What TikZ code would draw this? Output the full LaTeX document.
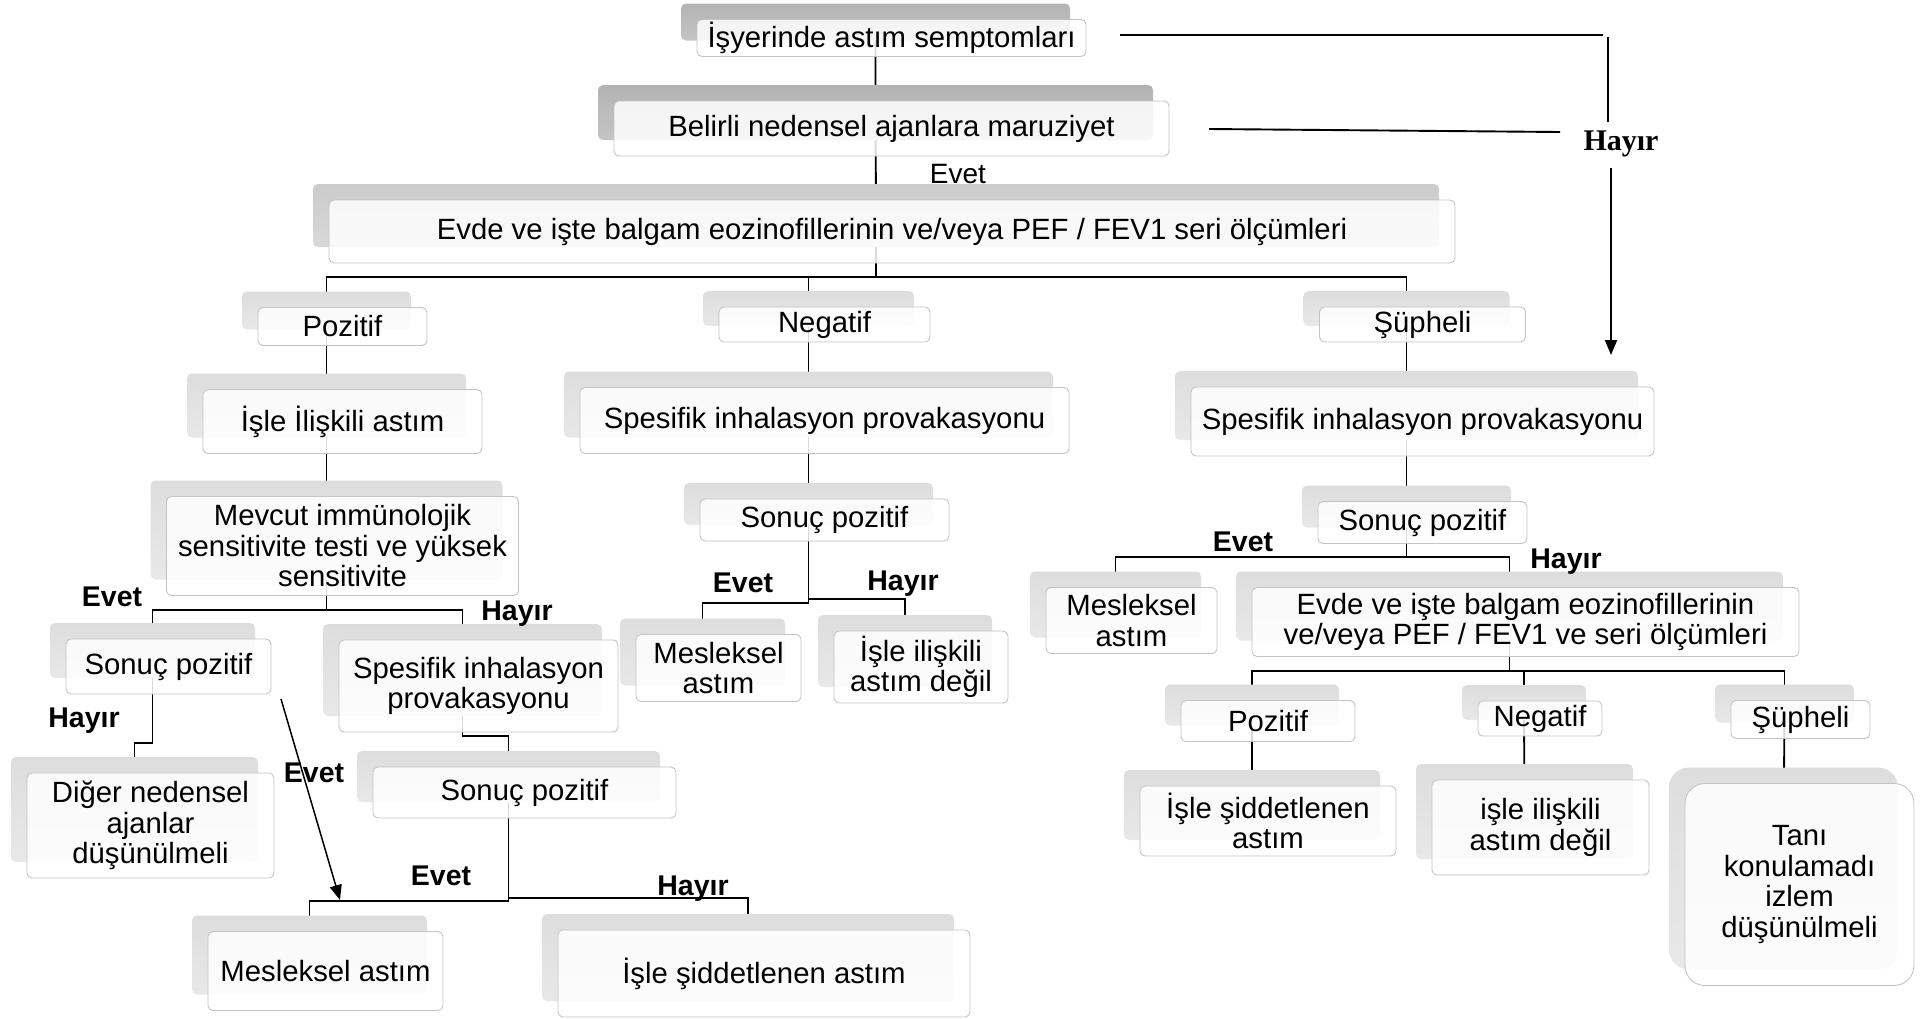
\documentclass[tikz,border=0pt]{standalone}
\usepackage{fontspec}
\setmainfont{Liberation Sans}
\newfontfamily\tnrfont{Liberation Serif}
\usetikzlibrary{arrows.meta}
\pgfdeclarelayer{bg}
\pgfsetlayers{bg,main}
\definecolor{sdAt}{HTML}{B3B3B3}
\definecolor{sdAb}{HTML}{C4C4C4}
\definecolor{sdBt}{HTML}{CBCBCB}
\definecolor{sdBb}{HTML}{D8D8D8}
\definecolor{sdCt}{HTML}{DDDDDD}
\definecolor{sdCb}{HTML}{E8E8E8}
\definecolor{bordgray}{HTML}{C4C4C4}
\newcommand{\fsmain}{\fontsize{29.3}{30.5}\selectfont}
\newcommand{\smbox}[7]{%
  \node[#6, minimum width=#4, minimum height=#5] (#1) at (#2,#3) {};
  \node[txtbox, minimum width=#4, minimum height=#5] (#1-t) at ([shift={(16,16)}]#1.center) {#7};
}
\begin{document}
\begin{tikzpicture}[x=1pt,y=-1pt,
  shbox/.style={draw=none, rounded corners=5pt, inner sep=0pt},
  shdark/.style={shbox, top color=sdAt, bottom color=sdAb},
  shmid/.style={shbox, top color=sdBt, bottom color=sdBb},
  shlight/.style={shbox, top color=sdCt, bottom color=sdCb},
  txtbox/.style={draw=bordgray, line width=0.9pt, fill=white, fill opacity=0.85, text opacity=1, draw opacity=1, rounded corners=5pt, align=center, inner sep=0pt, font=\fsmain},
  conn/.style={line width=1.9pt, black},
  lbl/.style={font=\fontsize{28.5}{30}\selectfont\bfseries, anchor=base, inner sep=0pt},
  arr/.style={-{Triangle[length=15pt,width=12pt]}}
]
\useasboundingbox (0,0) rectangle (1928,1018);

% ---------- boxes ----------
\smbox{isy}{875.5}{22}{389}{37}{shdark}{İşyerinde astım semptomları}
\smbox{bel}{875.5}{112.5}{555}{55}{shdark}{Belirli nedensel ajanlara maruziyet}
\smbox{evde}{876}{215.5}{1126}{63}{shmid}{Evde ve işte balgam eozinofillerinin ve/veya PEF / FEV1 seri ölçümleri}

\smbox{poz1}{326.5}{310.5}{169}{38}{shlight}{Pozitif}
\smbox{neg1}{808.5}{308.5}{211}{35}{shlight}{Negatif}
\smbox{sup1}{1406.5}{308.5}{206}{35}{shlight}{Şüpheli}

\smbox{isle1}{326.5}{405.5}{279}{64}{shlight}{İşle İlişkili astım}
\smbox{spes1}{808.5}{404.5}{489}{66}{shlight}{Spesifik inhalasyon provakasyonu}
\smbox{spes2}{1406.5}{405.5}{463}{69}{shlight}{Spesifik inhalasyon provakasyonu}

\smbox{mevcut}{326.5}{530}{352}{99}{shlight}{Mevcut immünolojik\\sensitivite testi ve yüksek\\sensitivite}
\smbox{sonuc1}{808.5}{504}{249}{42}{shlight}{Sonuç pozitif}
\smbox{sonuc2}{1406.5}{506.5}{209}{42}{shlight}{Sonuç pozitif}

\smbox{mesl1}{702.5}{652}{165}{67}{shlight}{Mesleksel\\astım}
\smbox{degil1}{905}{651}{174}{72}{shlight}{İşle ilişkili\\astım değil}
\smbox{mesl2}{1115.5}{604.5}{171}{66}{shlight}{Mesleksel\\astım}
\smbox{evde2}{1509.5}{606}{547}{69}{shlight}{Evde ve işte balgam eozinofillerinin\\ve/veya PEF / FEV1 ve seri ölçümleri}

\smbox{sonuc3}{152.5}{650.5}{205}{55}{shlight}{Sonuç pozitif}
\smbox{spes3}{462.5}{670}{279}{92}{shlight}{Spesifik inhalasyon\\provakasyonu}
\smbox{diger}{134.5}{809.5}{247}{105}{shlight}{Diğer nedensel\\ajanlar\\düşünülmeli}
\smbox{sonuc4}{508.5}{776.5}{303}{51}{shlight}{Sonuç pozitif}
\smbox{mesl3}{309.5}{955}{235}{79}{shlight}{Mesleksel astım}
\smbox{isid1}{748}{957.5}{412}{87}{shlight}{İşle şiddetlenen astım}

\smbox{poz2}{1252}{705}{174}{41}{shlight}{Pozitif}
\smbox{neg2}{1524}{702.5}{124}{35}{shlight}{Negatif}
\smbox{sup2}{1784.5}{703.5}{139}{38}{shlight}{Şüpheli}
\smbox{isid2}{1252}{805}{256}{70}{shlight}{İşle şiddetlenen\\astım}
\smbox{degil2}{1524.5}{811.5}{217}{95}{shlight}{işle ilişkili\\astım değil}
\node[shlight, rounded corners=20pt, minimum width=229, minimum height=202] (tani) at (1783.5,868.5) {};
\node[txtbox, rounded corners=20pt, minimum width=229, minimum height=202] (tani-t) at ([shift={(16,16)}]tani.center) {Tanı\\konulamadı\\izlem\\düşünülmeli};

% ---------- labels ----------
\node[font=\fontsize{28}{30}\selectfont, anchor=base, inner sep=0pt] (evet0) at (958,183) {Evet};
\node[font=\fontsize{30}{32}\selectfont\tnrfont\bfseries, anchor=base, inner sep=0pt] (hay0) at (1621,150) {Hayır};
\node[lbl] (evetA) at (112,606) {Evet};
\node[lbl] (hayA) at (517,620) {Hayır};
\node[lbl] (evetB) at (743,592) {Evet};
\node[lbl] (hayB) at (903,590) {Hayır};
\node[lbl] (evetC) at (1243,551) {Evet};
\node[lbl] (hayC) at (1566,568) {Hayır};
\node[lbl] (hayD) at (84,727) {Hayır};
\node[lbl] (evetD) at (314,782) {Evet};
\node[lbl] (evetE) at (441,885) {Evet};
\node[lbl] (hayE) at (693,895) {Hayır};

% ---------- bus coordinates ----------
\coordinate (busTop) at (0,277);
\coordinate (busMev) at (0,610);
\coordinate (busS3) at (0,743);
\coordinate (busSp3) at (0,736);
\coordinate (busS4L) at (0,901);
\coordinate (busS4R) at (0,898);
\coordinate (busS1L) at (0,603);
\coordinate (busS1R) at (0,599);
\coordinate (busS2) at (0,557);
\coordinate (busEv2) at (0,671);

% ---------- connectors ----------
\begin{pgfonlayer}{bg}
\draw[conn] (isy.center) -- (bel.center) -- (evde.center);
\draw[conn] (evde.center) -- (evde.center |- busTop) -| (poz1.center);
\draw[conn] (evde.center |- busTop) -| (neg1.center);
\draw[conn] (evde.center |- busTop) -| (sup1.center);

\draw[conn] (poz1.center) -- (isle1.center) -- (mevcut.center);
\draw[conn] (mevcut.center) -- (mevcut.center |- busMev) -| (sonuc3.center);
\draw[conn] (mevcut.center |- busMev) -| (spes3.center);
\draw[conn] (sonuc3.center) -- (sonuc3.center |- busS3) -| (diger.center);
\draw[conn] (spes3.center) -- (spes3.center |- busSp3) -| (sonuc4.center);
\draw[conn] (sonuc4.center) -- (sonuc4.center |- busS4L) -| (mesl3.center);
\draw[conn] (sonuc4.center |- busS4R) -| (isid1.center);

\draw[conn] (neg1.center) -- (spes1.center) -- (sonuc1.center);
\draw[conn] (sonuc1.center) -- (sonuc1.center |- busS1L) -| (mesl1.center);
\draw[conn] (sonuc1.center |- busS1R) -| (degil1.center);

\draw[conn] (sup1.center) -- (spes2.center) -- (sonuc2.center);
\draw[conn] (sonuc2.center) -- (sonuc2.center |- busS2) -| (mesl2.center);
\draw[conn] (sonuc2.center |- busS2) -| (evde2.center);
\draw[conn] (evde2.center) -- (evde2.center |- busEv2) -| (poz2.center);
\draw[conn] (evde2.center |- busEv2) -| (neg2.center);
\draw[conn] (evde2.center |- busEv2) -| (sup2.center);
\draw[conn] (poz2.center) -- (isid2.center);
\draw[conn] (neg2.center) -- (degil2.center);
\draw[conn] (sup2.center) -- (tani.center);
\end{pgfonlayer}

% ---------- free lines ----------
\coordinate (hA1) at (1120,35);
\coordinate (hA2) at (1603,35);
\coordinate (hB1) at (1608,37);
\coordinate (hB2) at (1608,122);
\coordinate (hC1) at (1209,129);
\coordinate (hC2) at (1560,132);
\coordinate (hD1) at (1611,168);
\coordinate (hD2) at (1611,355);
\draw[conn] (hA1) -- (hA2);
\draw[conn] (hB1) -- (hB2);
\draw[conn] (hC1) -- (hC2);
\draw[conn, arr] (hD1) -- (hD2);

\coordinate (arA) at (281,699);
\coordinate (arB) at (340,900);
\draw[line width=1.5pt, arr] (arA) -- (arB);
\end{tikzpicture}
\end{document}
